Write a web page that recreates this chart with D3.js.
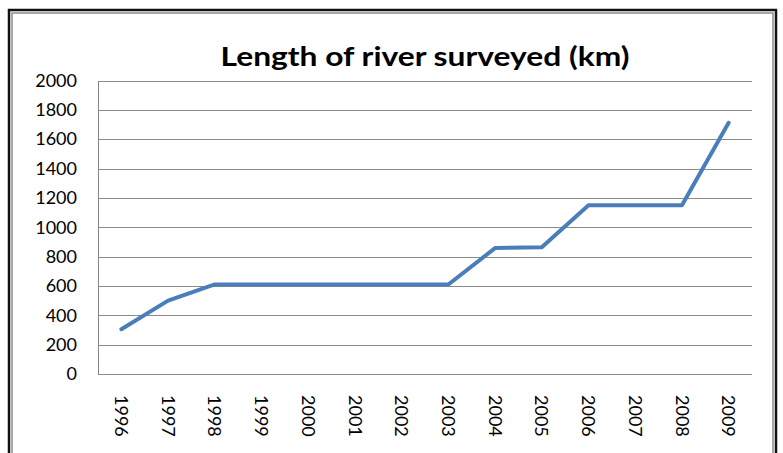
<!DOCTYPE html>
<html>
<head>
<meta charset="utf-8">
<script src="https://cdn.jsdelivr.net/npm/d3@7"></script>
<style>
  html, body { margin: 0; padding: 0; background: #fff; }
  svg { display: block; }
  text { font-family: Lato, "Open Sans", sans-serif; }
</style>
</head>
<body>
<div id="chart"></div>
<script>
// values
const years = ['1996', '1997', '1998', '1999', '2000', '2001', '2002',
               '2003', '2004', '2005', '2006', '2007', '2008', '2009'];
const lengthKm = [305, 500, 610, 610, 610, 610, 610,
                  610, 858, 864, 1150, 1150, 1150, 1712];
const yTicks = [0, 200, 400, 600, 800, 1000, 1200, 1400, 1600, 1800, 2000];
const titleText = 'Length of river surveyed (km)';

const width = 783, height = 453;
const plot = { left: 98, right: 752, top: 80.5, bottom: 374 };

const svg = d3.select('#chart').append('svg')
    .attr('width', width).attr('height', height);

// outer frame: black outside, gray inside, open at the bottom
const frame = svg.append('g').attr('fill', 'none');
frame.append('path')
    .attr('d', 'M9,453 V10 H776 V453')
    .attr('stroke', '#111').attr('stroke-width', 2.5);
frame.append('path')
    .attr('d', 'M12,453 V13 H773 V453')
    .attr('stroke', '#8c8c8c').attr('stroke-width', 1.5);

const x = d3.scaleBand().domain(years).range([plot.left, plot.right]);
const y = d3.scaleLinear().domain([0, 2000]).range([plot.bottom, plot.top]);

// gridlines + y labels
const yAxis = svg.append('g')
    .attr('transform', `translate(${plot.left},0)`)
    .call(d3.axisLeft(y).tickValues(yTicks).tickFormat(d3.format('d'))
        .tickSize(0).tickPadding(21));
yAxis.select('.domain').attr('stroke', '#868686');
yAxis.selectAll('.tick text')
    .attr('font-size', 18).attr('fill', '#000');
yAxis.selectAll('.tick line').remove();

svg.append('g').selectAll('line')
    .data(yTicks)
    .join('line')
    .attr('x1', plot.left).attr('x2', plot.right)
    .attr('y1', d => Math.round(y(d)) + 0.5).attr('y2', d => Math.round(y(d)) + 0.5)
    .attr('stroke', '#8a8a8a').attr('stroke-width', 1);

// x labels, rotated to read top to bottom
const xAxis = svg.append('g')
    .attr('transform', `translate(0,${plot.bottom})`)
    .call(d3.axisBottom(x).tickSize(0));
xAxis.select('.domain').remove();
xAxis.selectAll('.tick text')
    .attr('font-size', 18).attr('fill', '#000')
    .attr('text-anchor', 'start')
    .attr('transform', 'rotate(90)')
    .attr('x', 21).attr('y', 0).attr('dy', '0.35em');

// the series
const line = d3.line()
    .x((d, i) => x(years[i]) + x.bandwidth() / 2)
    .y(d => y(d));

svg.append('path')
    .datum(lengthKm)
    .attr('fill', 'none')
    .attr('stroke', '#4a7ebb')
    .attr('stroke-width', 4)
    .attr('stroke-linejoin', 'round')
    .attr('stroke-linecap', 'round')
    .attr('d', line);

// title (reference glyphs are wide, so stretch to its measured width)
svg.append('text')
    .attr('x', (plot.left + plot.right) / 2)
    .attr('y', 66)
    .attr('text-anchor', 'middle')
    .attr('font-size', 27)
    .attr('font-weight', 'bold')
    .attr('fill', '#000')
    .attr('textLength', 409)
    .attr('lengthAdjust', 'spacingAndGlyphs')
    .text(titleText);
</script>
</body>
</html>
